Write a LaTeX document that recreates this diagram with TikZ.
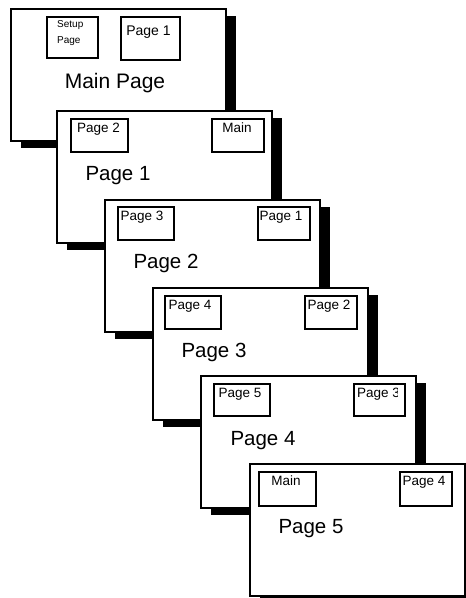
\documentclass[tikz,border=0pt]{standalone}
\usepackage{fontspec}
\setmainfont{Liberation Sans}
\usetikzlibrary{shadows}
\begin{document}
\begin{tikzpicture}[x=1pt,y=-1pt,
  card/.style={draw, line width=1.8pt, fill=white, anchor=north west, inner sep=0pt,
    minimum width=215pt, minimum height=132pt,
    drop shadow={shadow xshift=10pt, shadow yshift=-7pt, fill=black, opacity=1}},
  linkbox/.style={draw, line width=1.6pt, anchor=north west, inner sep=0pt, minimum height=33pt},
  small/.style={anchor=base, inner sep=0pt, font=\fontsize{13.5}{16}\selectfont},
  big/.style={anchor=base, inner sep=0pt, font=\fontsize{20.5}{24}\selectfont}]
\useasboundingbox (0,0) rectangle (466,598);
\clip (0,0) rectangle (466,598);

% Main page
\node[card] (c0) at (10,8) {};
\node[linkbox, minimum width=51pt, minimum height=41pt] (b0a) at (46,16) {};
\node[anchor=base west, inner sep=0pt, font=\fontsize{10}{12}\selectfont] (t0a) at (57,27.5) {Setup};
\node[anchor=base west, inner sep=0pt, font=\fontsize{10}{12}\selectfont] (t0b) at (57,43) {Page};
\node[linkbox, minimum width=59pt, minimum height=43pt] (b0b) at (120,16) {};
\node[anchor=base, inner sep=0pt, font=\fontsize{14}{16}\selectfont] (t0c) at (148.5,35) {Page 1};
\node[anchor=base, inner sep=0pt, font=\fontsize{21}{24}\selectfont] (l0) at (115,88.5) {Main Page};

% Page 1
\node[card] (c1) at (56,110) {};
\node[linkbox, minimum width=57pt] (b1a) at (70,118) {};
\node[small] (t1a) at (98.5,132.5) {Page 2};
\node[linkbox, minimum width=52pt] (b1b) at (211,118) {};
\node[small] (t1b) at (237,132.5) {Main};
\node[big] (l1) at (118,180.5) {Page 1};

% Page 2
\node[card] (c2) at (104,199) {};
\node[linkbox, minimum width=56pt] (b2a) at (117,206) {};
\node[small] (t2a) at (142,220) {Page 3};
\node[linkbox, minimum width=52pt] (b2b) at (257,206) {};
\node[small] (t2b) at (281,220) {Page 1};
\node[big] (l2) at (166,268.5) {Page 2};

% Page 3
\node[card] (c3) at (152,287) {};
\node[linkbox, minimum width=56pt] (b3a) at (164,295) {};
\node[small] (t3a) at (190,309) {Page 4};
\node[linkbox, minimum width=52pt] (b3b) at (304,295) {};
\node[small] (t3b) at (329,309) {Page 2};
\node[big] (l3) at (214,357) {Page 3};

% Page 4
\node[card] (c4) at (200,375) {};
\node[linkbox, minimum width=56pt, minimum height=32pt] (b4a) at (213,383) {};
\node[small] (t4a) at (240,397) {Page 5};
\node[linkbox, minimum width=51pt, minimum height=32pt] (b4b) at (353,383) {};
\begin{scope}
  \clip (353,383) rectangle (397,415);
  \node[small, anchor=base west] (t4b) at (357,397) {Page 3};
\end{scope}
\node[big] (l4) at (263,445) {Page 4};

% Page 5
\node[card] (c5) at (249,463) {};
\node[linkbox, minimum width=57pt, minimum height=34pt] (b5a) at (258,471) {};
\node[small] (t5a) at (286,485) {Main};
\node[linkbox, minimum width=52pt, minimum height=34pt] (b5b) at (399,471) {};
\node[small] (t5b) at (424,485) {Page 4};
\node[big] (l5) at (311,533) {Page 5};
\end{tikzpicture}
\end{document}
